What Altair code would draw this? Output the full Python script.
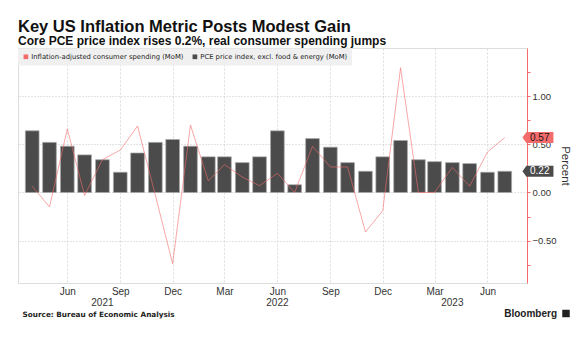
import altair as alt
import pandas as pd

# ---------------- data ----------------
months = [
    "2021-04-01", "2021-05-01", "2021-06-01", "2021-07-01", "2021-08-01", "2021-09-01",
    "2021-10-01", "2021-11-01", "2021-12-01", "2022-01-01", "2022-02-01", "2022-03-01",
    "2022-04-01", "2022-05-01", "2022-06-01", "2022-07-01", "2022-08-01", "2022-09-01",
    "2022-10-01", "2022-11-01", "2022-12-01", "2023-01-01", "2023-02-01", "2023-03-01",
    "2023-04-01", "2023-05-01", "2023-06-01", "2023-07-01",
]
core_pce = [
    0.64, 0.52, 0.48, 0.39, 0.34, 0.21, 0.41, 0.52, 0.55, 0.48, 0.37, 0.37,
    0.31, 0.37, 0.64, 0.08, 0.56, 0.47, 0.31, 0.22, 0.37, 0.54, 0.34, 0.32,
    0.31, 0.30, 0.21, 0.22,
]
real_spending = [
    0.065, -0.15, 0.66, -0.03, 0.34, 0.44, 0.69, -0.03, -0.74, 0.70, 0.12, 0.29,
    0.16, 0.07, 0.20, 0.00, 0.48, 0.265, 0.265, -0.41, -0.19, 1.295, 0.00, 0.00,
    0.26, 0.065, 0.42, 0.57,
]
spend_name = "Inflation-adjusted consumer spending (MoM)"
pce_name = "PCE price index, excl. food & energy (MoM)"
tick_dates = ["2021-06-01", "2021-09-01", "2021-12-01", "2022-03-01", "2022-06-01",
              "2022-09-01", "2022-12-01", "2023-03-01", "2023-06-01"]
month_abbr = ["Jan", "Feb", "Mar", "Apr", "May", "Jun",
              "Jul", "Aug", "Sep", "Oct", "Nov", "Dec"]
year_labels = ["2021", "2022", "2023"]
year_dates = ["2021-08-01", "2022-06-01", "2023-04-01"]
y_ticks = [-0.75, -0.5, -0.25, 0.0, 0.25, 0.5, 0.75, 1.0, 1.25]
x_start, x_end = "2021-03-16", "2023-07-31"
y_domain = [-0.94, 1.5]

title_text = "Key US Inflation Metric Posts Modest Gain"
subtitle_text = "Core PCE price index rises 0.2%, real consumer spending jumps"
source_text = "Source: Bureau of Economic Analysis"
brand_text = "Bloomberg"

# ---------------- styling ----------------
W, H = 509, 235
RED = "#f36b6b"
DARK = "#4b4b4b"
AX = "Liberation Sans"
TAG = "M-1,0L-0.74,-0.355L1,-0.355L1,0.355L-0.74,0.355Z"


def dt(s):
    y, m, d = map(int, s.split("-"))
    return alt.DateTime(year=y, month=m, date=d, utc=True)


df = pd.DataFrame({"date": months, "pce": core_pce, "spend": real_spending,
                   "series": [pce_name] * len(months)})
last = df.iloc[[-1]]
years = pd.DataFrame({"date": year_dates, "label": year_labels})

month_js = "[" + ",".join(f"'{m}'" for m in month_abbr) + "]"
x_scale = alt.Scale(type="utc", domain=[dt(x_start), dt(x_end)])
x_axis = alt.Axis(values=[dt(s) for s in tick_dates],
                  labelExpr=f"{month_js}[utcmonth(datum.value)]",
                  title=None, domain=False, ticks=False, grid=True, gridColor="#dcdcdc",
                  gridDash=[2, 2], labelFont=AX, labelFontSize=10, labelColor="#333333",
                  labelPadding=3, labelFlush=False)
y_scale = alt.Scale(domain=y_domain, nice=False, zero=False)
major = "abs(datum.value % 0.5) < 0.001"
y_axis = alt.Axis(orient="right", values=y_ticks,
                  labelExpr=f"{major} ? format(datum.value, '.2f') : ''",
                  gridOpacity={"condition": {"test": major, "value": 1}, "value": 0},
                  grid=True, gridColor="#c8c8c8", gridDash=[1, 2],
                  domainColor=RED, tickColor=RED, tickSize=3, labelPadding=2,
                  labelFont=AX, labelFontSize=9.5, labelColor="#333333",
                  title="Percent", titleFont=AX, titleFontSize=11.5,
                  titleFontWeight="normal", titleColor="#333333", titlePadding=3)


def X(field="date"):
    return alt.X(f"{field}:T", scale=x_scale, axis=x_axis)


def Y(field):
    return alt.Y(f"{field}:Q", scale=y_scale, axis=y_axis)


bars = alt.Chart(df).mark_bar(size=13.7, stroke="#a8a8a8", strokeWidth=0.7).encode(
    x=X(), y=Y("pce"),
    color=alt.Color("series:N",
                    scale=alt.Scale(domain=[spend_name, pce_name], range=[RED, DARK]),
                    legend=alt.Legend(orient="none", legendX=0, legendY=0.5,
                                      direction="horizontal", title=None,
                                      fillColor="#f0f0f0", padding=4.5,
                                      symbolType="square", symbolSize=22,
                                      symbolStrokeWidth=0, labelFont="DejaVu Sans",
                                      labelFontSize=6.8, labelColor="#222222",
                                      columnPadding=8, labelOffset=2, labelLimit=400)),
)

line = alt.Chart(df).mark_line(color=RED, strokeWidth=0.8, opacity=0.75).encode(
    x=X(), y=Y("spend"))


def tag(field, bg, fg):
    base = alt.Chart(last).encode(x=X(), y=Y(field))
    shape = base.mark_point(shape=TAG, size=961, filled=True, fill=bg, opacity=1,
                            strokeWidth=0, xOffset=33.2)
    txt = base.mark_text(font=AX, fontSize=10, color=fg, dx=35, align="center",
                         baseline="middle").encode(text=alt.Text(f"{field}:Q", format=".2f"))
    return shape + txt


year_layer = alt.Chart(years).mark_text(font=AX, fontSize=10, color="#333333",
                                         baseline="middle").encode(
    x=X(), y=alt.value(H + 20), text="label:N")

source_layer = alt.Chart(pd.DataFrame({"t": [source_text]})).mark_text(
    font="DejaVu Sans", fontSize=7.3, fontWeight="bold", color="#222222",
    align="left", baseline="middle").encode(x=alt.value(4.5), y=alt.value(H + 32), text="t:N")

brand_layer = alt.Chart(pd.DataFrame({"t": [brand_text]})).mark_text(
    font=AX, fontSize=10, fontWeight="bold", color="#222222",
    align="right", baseline="middle").encode(x=alt.value(539), y=alt.value(H + 31), text="t:N")

icon_layer = alt.Chart(pd.DataFrame({"t": [brand_text]})).mark_point(
    shape="square", filled=True, size=56, color="#222222", opacity=1).encode(
    x=alt.value(548), y=alt.value(H + 30.5))

chart = alt.layer(
    bars, line, tag("spend", RED, "#1a1a1a"), tag("pce", DARK, "#ffffff"),
    year_layer, source_layer, brand_layer, icon_layer,
).properties(
    width=W, height=H,
    autosize=alt.AutoSizeParams(type="none"),
    padding={"left": 18, "top": 48, "right": 58, "bottom": 54},
    title=alt.TitleParams(text=title_text, subtitle=subtitle_text, anchor="start",
                          font=AX, fontSize=16.5, fontWeight="bold", color="#111111",
                          subtitleFont=AX, subtitleFontSize=12, subtitleFontWeight="bold",
                          subtitleColor="#111111", subtitlePadding=1, offset=3, dy=2),
).configure_view(stroke=None).configure(background="white")

chart.save("out.html", embed_options={"renderer": "svg", "actions": False})
